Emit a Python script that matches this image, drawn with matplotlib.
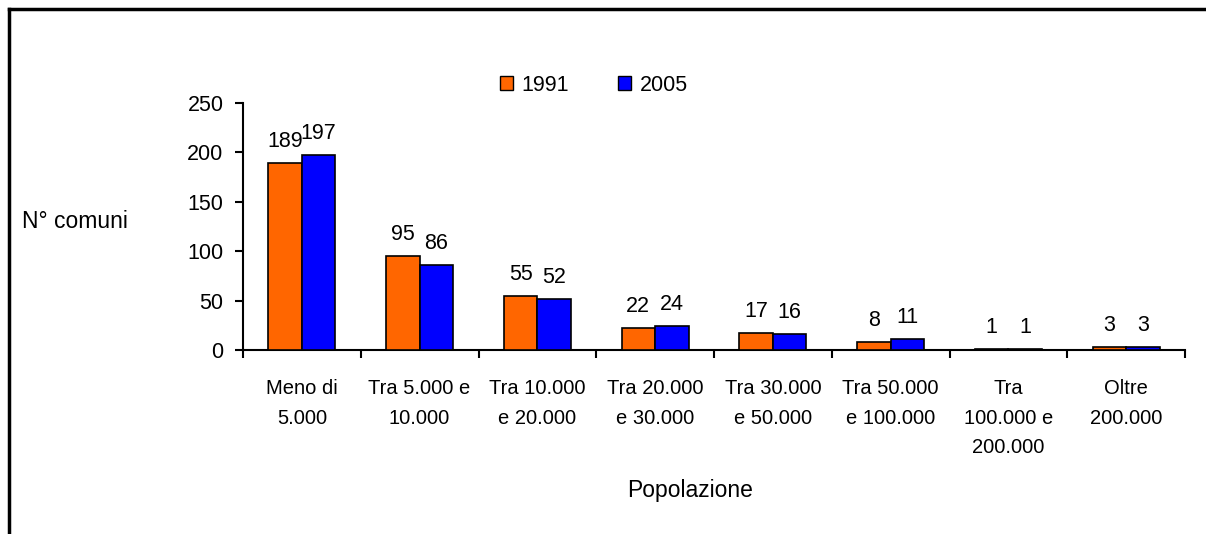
import matplotlib
matplotlib.use("Agg")
import matplotlib.pyplot as plt
import numpy as np
from matplotlib.lines import Line2D

categories = ["Meno di\n5.000", "Tra 5.000 e\n10.000", "Tra 10.000\ne 20.000",
              "Tra 20.000\ne 30.000", "Tra 30.000\ne 50.000", "Tra 50.000\ne 100.000",
              "Tra\n100.000 e\n200.000", "Oltre\n200.000"]
values_1991 = [189, 95, 55, 22, 17, 8, 1, 3]
values_2005 = [197, 86, 52, 24, 16, 11, 1, 3]
series_names = ["1991", "2005"]
yticks = [0, 50, 100, 150, 200, 250]

plt.rcParams["font.family"] = ["Liberation Sans", "DejaVu Sans"]
fs_num = 15.5
fs_cat = 14.5
fs_title = 16.5

W, H = 1206, 534
fig = plt.figure(figsize=(W / 100, H / 100), dpi=100)
ax = fig.add_axes([243 / W, 1 - 350 / H, (1185 - 243) / W, (350 - 103) / H])

n = len(categories)
x = np.arange(n)
bw = 0.285
orange = "#FF6600"
blue = "#0000FF"
b1 = ax.bar(x - bw / 2, values_1991, bw, color=orange, edgecolor="black", linewidth=1.2, zorder=3)
b2 = ax.bar(x + bw / 2, values_2005, bw, color=blue, edgecolor="black", linewidth=1.2, zorder=3)

for bars, vals in ((b1, values_1991), (b2, values_2005)):
    for r, v in zip(bars, vals):
        ax.annotate(str(v), (r.get_x() + r.get_width() / 2, v), xytext=(0, 8),
                    textcoords="offset points", ha="center", va="bottom", fontsize=fs_num)

ax.set_xlim(-0.5, n - 0.5)
ax.set_ylim(0, 250)
ax.set_yticks(yticks)
ax.set_yticklabels([str(t) for t in yticks], fontsize=fs_num)
ax.set_xticks(np.arange(-0.5, n, 1.0))
ax.set_xticklabels([])
ax.set_xticks(x, minor=True)
ax.set_xticklabels(categories, minor=True, fontsize=fs_cat, linespacing=1.7, va="top")
ax.tick_params(axis="x", which="minor", length=0, pad=21)
ax.tick_params(axis="x", which="major", length=6, width=1.5, direction="out")
ax.tick_params(axis="y", length=6, width=1.5, direction="out", pad=8)
for s in ("top", "right"):
    ax.spines[s].set_visible(False)
for s in ("left", "bottom"):
    ax.spines[s].set_linewidth(1.5)

fig.text(22 / W, 1 - 222 / H, "N° comuni", fontsize=fs_title, ha="left", va="center")
fig.text(690 / W, 1 - 490 / H, "Popolazione", fontsize=fs_title, ha="center", va="center")

handles = [plt.Rectangle((0, 0), 1, 1, facecolor=orange, edgecolor="black"),
           plt.Rectangle((0, 0), 1, 1, facecolor=blue, edgecolor="black")]
fig.legend(handles, series_names, loc="center", bbox_to_anchor=(594 / W, 1 - 85 / H), ncol=2,
           frameon=False, fontsize=fs_num, handlelength=0.6, handleheight=0.6,
           handletextpad=0.4, columnspacing=2.3)

fig.add_artist(Line2D([8.5 / W, 8.5 / W], [0, 1 - 9 / H], color="black", linewidth=2.5))
fig.add_artist(Line2D([8.5 / W, 1], [1 - 9 / H, 1 - 9 / H], color="black", linewidth=2.5))

fig.savefig("out.png", dpi=100)
